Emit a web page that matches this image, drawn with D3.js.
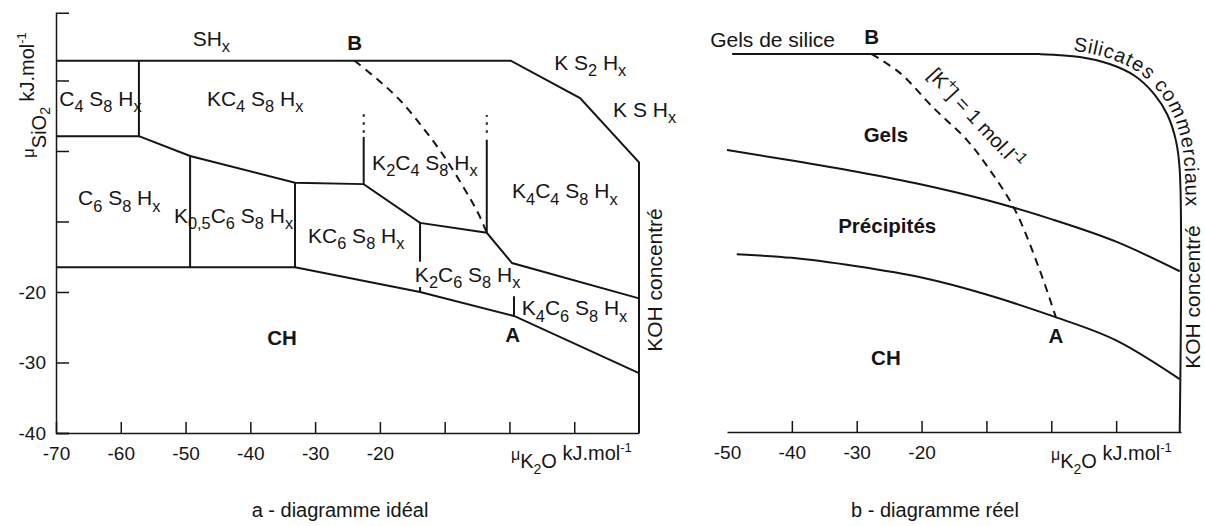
<!DOCTYPE html>
<html>
<head>
<meta charset="utf-8">
<script src="https://cdn.jsdelivr.net/npm/d3@7"></script>
<style>
  body { margin: 0; background: #fff; }
  svg { display: block; font-family: "Liberation Sans", Arial, Helvetica, sans-serif; fill: #151515; }
  text { white-space: pre; }
  .axis path, .axis line { stroke: #151515; stroke-width: 1.5; }
  .axis text { font-size: 19px; fill: #151515; font-family: "Liberation Sans", Arial, sans-serif; }
  .bound { fill: none; stroke: #151515; stroke-width: 2; }
  .dash { fill: none; stroke: #151515; stroke-width: 2; stroke-dasharray: 8 6; }
  .dots { fill: none; stroke: #151515; stroke-width: 2; stroke-dasharray: 2.5 5.5; }
  .bold { font-weight: bold; font-size: 20.5px; }
</style>
</head>
<body>
<svg id="chart" width="1205" height="526"></svg>
<script>
// values in kJ.mol-1

// a - diagramme idéal
const xTicksA = [-70, -60, -50, -40, -30, -20, -10, 0, 10];
const xLabelsA = [-70, -60, -50, -40, -30, -20];
const yTicksA = [-40, -30, -20, -10, 0, 10];
const yLabelsA = [-40, -30, -20];

const lineTopA = [[-70, 12.8], [0.2, 12.8], [10.9, 7.5], [20, -1.6], [20, -40]];
const lineC4A = [[-57.2, 12.8], [-57.2, 2.1], [-70, 2.1]];
const lineMidA = [[-57.2, 2.1], [-49.3, -0.7], [-33.1, -4.5], [-22.5, -4.7], [-13.8, -10.2], [-3.5, -11.6], [0.4, -15.9], [20, -20.9]];
const lineLowA = [[-70, -16.5], [-33.1, -16.5], [-13.8, -20.0], [0.7, -23.4], [20, -31.5]];
// [x, y from, y to]
const verticalsA = [[-49.3, -0.7, -16.5], [-33.1, -4.5, -16.5], [-22.5, -4.7, 2.0], [-3.5, -11.6, 1.6],
                    [-13.8, -10.2, -15.7], [-13.8, -19.3, -20.0], [0.7, -20.6, -23.4]];
const dottedA = [[-22.5, 2.6, 5.5], [-3.5, 2.6, 5.1]];
const isoKA = [[-23.9, 12.8], [-20.3, 10.1], [-16.9, 7.2], [-13.1, 3.0], [-9.7, -1.3], [-4.9, -8.7], [-3.5, -11.6]];

const phasesA = [
  ["SH_x", -48.9, 14.9],
  ["C_4 S_8 H_x", -69.5, 6.4],
  ["KC_4 S_8 H_x", -46.7, 6.4],
  ["K S_2 H_x", 6.9, 11.5],
  ["K S H_x", 16.0, 4.8],
  ["K_2C_4 S_8 H_x", -21.2, -2.7],
  ["K_4C_4 S_8 H_x", 0.4, -6.7],
  ["C_6 S_8 H_x", -66.6, -7.7],
  ["K_{0,5}C_6 S_8 H_x", -51.8, -10.2],
  ["KC_6 S_8 H_x", -31.1, -13.0],
  ["K_2C_6 S_8 H_x", -14.6, -18.6],
  ["K_4C_6 S_8 H_x", 1.9, -23.3]
];
const pointsA = [["B", -23.9, 14.3], ["A", 0.5, -27.1], ["CH", -35.1, -27.5]];

// b - diagramme réel
const xTicksB = [-50, -40, -30, -20, -10, 0, 10];
const xLabelsB = [-50, -40, -30, -20];

const lineTopB = [[-49.2, 13.6], [-7.9, 13.6], [-1.8, 13.6], [4.4, 13.2], [9.0, 12.2], [12.9, 10.5],
                  [15.9, 7.9], [17.9, 5.0], [19.2, 1.4], [19.8, -2.8], [19.8, -40]];
const lineMidB = [[-50, 0], [-40, -1.5], [-30, -3.1], [-20, -4.9], [-10, -7.1], [0, -9.8],
                  [10, -13.0], [19.8, -17.2]];
const lineLowB = [[-48.5, -14.8], [-40, -15.3], [-30, -16.5], [-20, -18.1], [-10, -20.5], [0, -23.5],
                  [10, -27.0], [19.8, -32.5]];
const isoKB = [[-27.7, 13.6], [-23.3, 10.9], [-18.3, 6.1], [-13, 1.4], [-9.5, -2.8], [-5.6, -8.5],
               [-1.8, -17.0], [0.7, -23.7]];
const pointsB = [["B", -27.7, 15.0], ["Gels", -25.5, 1.1], ["Précipités", -25.3, -11.8], ["CH", -25.5, -30.5], ["A", 0.7, -27.4]];

const svg = d3.select("#chart");
svg.append("rect").attr("width", 1205).attr("height", 526).attr("fill", "#fff");

// text with _sub and ^sup parts
function rich(sel, str, size) {
  let re = /([_^])\{([^}]*)\}|([_^])(.)|([^_^]+)/g, m, shift = 0;
  while ((m = re.exec(str))) {
    let mode = m[1] || m[3] || "";
    let t = m[2] || m[4] || m[5];
    let target = mode === "_" ? size * 0.3 : mode === "^" ? -size * 0.42 : 0;
    sel.append("tspan")
      .attr("dy", target - shift)
      .style("font-size", (mode ? size * 0.78 : size) + "px")
      .text(t);
    shift = target;
  }
}

// ---------- panel a ----------
var xA = d3.scaleLinear().domain([-70, 20]).range([56, 639]);
var yA = d3.scaleLinear().domain([-40, 19.6]).range([433, 12.8]);
var lineA = d3.line().x(d => xA(d[0])).y(d => yA(d[1]));

svg.append("g").attr("class", "axis").attr("transform", "translate(0,433)")
  .call(d3.axisBottom(xA).tickValues(xTicksA).tickSizeInner(-11).tickSizeOuter(0).tickPadding(14)
    .tickFormat(d => xLabelsA.includes(d) ? String(d) : ""));

svg.append("g").attr("class", "axis").attr("transform", "translate(56,0)")
  .call(d3.axisLeft(yA).tickValues(yTicksA).tickSizeInner(-13).tickSizeOuter(-13).tickPadding(10)
    .tickFormat(d => yLabelsA.includes(d) ? String(d) : ""));

[lineTopA, lineC4A, lineMidA, lineLowA].forEach(l => {
  svg.append("path").attr("class", "bound").attr("d", lineA(l));
});
svg.selectAll(".vA").data(verticalsA).enter().append("line")
  .attr("class", "bound")
  .attr("x1", d => xA(d[0])).attr("x2", d => xA(d[0]))
  .attr("y1", d => yA(d[1])).attr("y2", d => yA(d[2]));
svg.selectAll(".dA").data(dottedA).enter().append("line")
  .attr("class", "dots")
  .attr("x1", d => xA(d[0])).attr("x2", d => xA(d[0]))
  .attr("y1", d => yA(d[1])).attr("y2", d => yA(d[2]));
svg.append("path").attr("class", "dash").attr("d", lineA.curve(d3.curveCatmullRom)(isoKA));
lineA.curve(d3.curveLinear);

phasesA.forEach(p => {
  let t = svg.append("text").attr("x", xA(p[1])).attr("y", yA(p[2]));
  rich(t, p[0], 21);
});
pointsA.forEach(p => {
  svg.append("text").attr("class", "bold").attr("text-anchor", "middle")
    .attr("x", xA(p[1])).attr("y", yA(p[2])).text(p[0]);
});

svg.append("text").attr("text-anchor", "middle").style("font-size", "21px")
  .attr("transform", "translate(662,280) rotate(-90)").text("KOH concentré");

// axis titles a
var ytA = svg.append("text").attr("transform", "translate(34,158) rotate(-90)");
ytA.append("tspan").style("font-size", "17px").text("μ");
ytA.append("tspan").attr("dy", 12).style("font-size", "20px").text("SiO");
ytA.append("tspan").attr("dy", 4).style("font-size", "14px").text("2");
ytA.append("tspan").attr("dy", -16).style("font-size", "20px").text(" kJ.mol");
ytA.append("tspan").attr("dy", -8).style("font-size", "13px").text("-1");

function xTitle(x) {
  var t = svg.append("text").attr("x", x).attr("y", 460);
  t.append("tspan").style("font-size", "16px").text("μ");
  t.append("tspan").attr("dy", 8).style("font-size", "20px").text("K");
  t.append("tspan").attr("dy", 6).style("font-size", "14px").text("2");
  t.append("tspan").attr("dy", -6).style("font-size", "20px").text("O");
  t.append("tspan").attr("dy", -8).style("font-size", "20px").text(" kJ.mol");
  t.append("tspan").attr("dy", -8).style("font-size", "13px").text("-1");
}
xTitle(511);

svg.append("text").attr("x", 340).attr("y", 517).attr("text-anchor", "middle")
  .style("font-size", "20px").text("a - diagramme idéal");

// ---------- panel b ----------
var xB = d3.scaleLinear().domain([-50, 20]).range([727, 1181]);
var yB = d3.scaleLinear().domain([-40, 19.6]).range([432, 11.8]);
var lineB = d3.line().x(d => xB(d[0])).y(d => yB(d[1])).curve(d3.curveCatmullRom);
var smoothB = d3.line().x(d => xB(d[0])).y(d => yB(d[1])).curve(d3.curveMonotoneX);

var axB = svg.append("g").attr("class", "axis").attr("transform", "translate(0,432)")
  .call(d3.axisBottom(xB).tickValues(xTicksB).tickSizeInner(-11).tickSizeOuter(0).tickPadding(14)
    .tickFormat(d => xLabelsB.includes(d) ? String(d) : ""));
axB.selectAll(".tick line").filter(d => d === -50).remove();

svg.append("path").attr("id", "silCurve").attr("class", "bound").attr("d", lineB(lineTopB));
svg.append("path").attr("class", "bound").attr("d", smoothB(lineMidB));
svg.append("path").attr("class", "bound").attr("d", smoothB(lineLowB));
svg.append("path").attr("class", "dash").attr("d", lineB(isoKB));

pointsB.forEach(p => {
  svg.append("text").attr("class", "bold").attr("text-anchor", "middle")
    .attr("x", xB(p[1])).attr("y", yB(p[2])).text(p[0]);
});

svg.append("text").attr("x", xB(-52.6)).attr("y", yB(14.6)).style("font-size", "21px").text("Gels de silice");

svg.append("text").attr("dy", -5).style("font-size", "20px").style("letter-spacing", "0.6px")
  .append("textPath").attr("href", "#silCurve").attr("startOffset", 340)
  .text("Silicates commerciaux");

var kt = svg.append("text").attr("text-anchor", "middle")
  .attr("transform", "translate(971,123) rotate(47)");
rich(kt, "[K^+] = 1 mol.l^{-1}", 20);

svg.append("text").attr("text-anchor", "middle").style("font-size", "21px")
  .attr("transform", "translate(1200,297) rotate(-90)").text("KOH concentré");

xTitle(1051);

svg.append("text").attr("x", 935).attr("y", 517).attr("text-anchor", "middle")
  .style("font-size", "20px").text("b - diagramme réel");
</script>
</body>
</html>
